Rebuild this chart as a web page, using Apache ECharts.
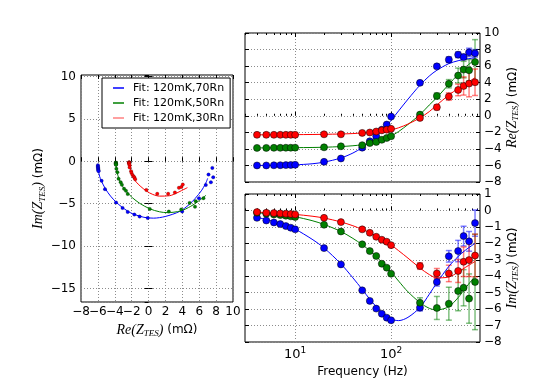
<!DOCTYPE html>
<html>
<head>
<meta charset="utf-8">
<script src="https://cdn.jsdelivr.net/npm/echarts@6/dist/echarts.min.js"></script>
<style>
html, body { margin: 0; padding: 0; background: #fff; }
#chart { width: 548px; height: 387px; }
</style>
</head>
<body>
<div id="chart"></div>
<script>
// measured points (frequency in Hz, impedance in mOhm)
var freq = [4, 5, 6, 7, 8, 9, 10, 20, 30, 50, 60, 70, 80, 90, 100, 200, 300, 400, 500, 570, 650, 750];

var reBlue  = [-6.0, -6.0, -5.98, -5.97, -5.96, -5.94, -5.92, -5.56, -5.16, -3.85, -3.08, -2.47, -1.68, -1.06, -0.1, 3.98, 5.97, 6.78, 7.38, 7.1, 7.66, 7.55];
var imBlue  = [-0.45, -0.61, -0.73, -0.83, -0.95, -1.05, -1.15, -2.29, -3.28, -4.86, -5.5, -5.97, -6.28, -6.52, -6.68, -5.91, -4.35, -2.79, -2.47, -1.56, -1.88, -0.77];
var reGreen = [-3.88, -3.88, -3.87, -3.87, -3.86, -3.86, -3.85, -3.81, -3.69, -3.55, -3.3, -3.16, -2.9, -2.68, -2.47, 0.14, 2.4, 3.87, 4.86, 5.58, 5.5, 6.5];
var imGreen = [-0.14, -0.2, -0.24, -0.28, -0.32, -0.36, -0.4, -0.87, -1.28, -2.06, -2.47, -2.77, -3.24, -3.48, -3.85, -5.61, -5.93, -5.67, -4.9, -4.7, -5.36, -4.35];
var reRed   = [-2.3, -2.3, -2.3, -2.3, -2.3, -2.3, -2.3, -2.24, -2.24, -2.07, -2.02, -1.9, -1.76, -1.68, -1.58, -0.26, 1.03, 2.32, 3.12, 3.6, 3.89, 4.05];
var imRed   = [-0.1, -0.14, -0.16, -0.18, -0.2, -0.22, -0.24, -0.45, -0.71, -1.15, -1.36, -1.6, -1.78, -1.9, -2.11, -3.38, -3.83, -3.83, -3.68, -3.12, -3.02, -2.74];

// error bars (0 = none drawn)
var errReBlue  = [0, 0, 0, 0, 0, 0, 0, 0, 0, 0, 0, 0, 0, 0, 0, 0.2, 0.25, 0.35, 0.35, 0.3, 0.5, 0.45];
var errReGreen = [0, 0, 0, 0, 0, 0, 0, 0, 0, 0, 0, 0, 0, 0, 0, 0.2, 0.35, 0.5, 0.9, 1.0, 1.3, 2.7];
var errReRed   = [0, 0, 0, 0, 0, 0, 0, 0, 0, 0, 0, 0, 0, 0, 0, 0.15, 0.3, 0.45, 0.7, 1.1, 1.6, 1.6];
var errImBlue  = [0, 0, 0, 0, 0, 0, 0, 0, 0, 0, 0, 0, 0, 0, 0, 0.2, 0.25, 0.35, 0.65, 0.6, 0.6, 0.8];
var errImGreen = [0, 0, 0, 0, 0, 0, 0, 0, 0, 0, 0, 0, 0, 0, 0, 0.3, 0.7, 1.0, 1.2, 1.1, 1.5, 2.9];
var errImRed   = [0, 0, 0, 0, 0, 0, 0, 0, 0, 0, 0, 0, 0, 0, 0, 0.2, 0.3, 0.5, 0.7, 0.9, 1.0, 1.3];

// fitted model curves
var fitFreq = [4, 5, 6, 7, 8, 9, 10, 15, 20, 30, 40, 50, 60, 70, 80, 100, 120, 150, 200, 250, 300, 400, 500, 600, 750];
var fitReBlue  = [-6.0, -6.0, -5.99, -5.98, -5.97, -5.95, -5.93, -5.8, -5.6, -5.1, -4.5, -3.85, -3.15, -2.5, -1.85, -0.55, 0.6, 2.0, 3.7, 4.8, 5.5, 6.3, 6.65, 6.85, 7.0];
var fitImBlue  = [-0.42, -0.55, -0.68, -0.8, -0.92, -1.03, -1.13, -1.75, -2.28, -3.25, -4.1, -4.8, -5.4, -5.85, -6.2, -6.6, -6.7, -6.5, -5.9, -5.1, -4.4, -3.4, -2.8, -2.4, -2.0];
var fitReGreen = [-3.88, -3.88, -3.87, -3.87, -3.86, -3.86, -3.85, -3.83, -3.8, -3.72, -3.62, -3.5, -3.33, -3.15, -2.95, -2.45, -1.9, -1.05, 0.15, 1.3, 2.2, 3.8, 5.0, 5.9, 6.8];
var fitImGreen = [-0.14, -0.18, -0.22, -0.26, -0.3, -0.34, -0.38, -0.62, -0.85, -1.28, -1.7, -2.08, -2.45, -2.8, -3.15, -3.75, -4.3, -4.95, -5.6, -5.95, -6.05, -5.85, -5.3, -4.7, -4.0];
var fitReRed   = [-2.3, -2.3, -2.3, -2.3, -2.29, -2.29, -2.28, -2.26, -2.24, -2.2, -2.15, -2.08, -2.02, -1.95, -1.88, -1.7, -1.45, -1.0, -0.25, 0.5, 1.3, 2.5, 3.3, 3.9, 4.6];
var fitImRed   = [-0.1, -0.13, -0.15, -0.17, -0.2, -0.22, -0.24, -0.35, -0.46, -0.7, -0.93, -1.15, -1.35, -1.55, -1.75, -2.1, -2.45, -2.9, -3.5, -3.9, -4.1, -4.05, -3.75, -3.45, -3.1];

var fitNames = ['Fit: 120mK,70Rn', 'Fit: 120mK,50Rn', 'Fit: 120mK,30Rn'];

// log axis tick positions
var majorTicks = [10, 100];
var minorTicks = [3, 4, 5, 6, 7, 8, 9, 20, 30, 40, 50, 60, 70, 80, 90, 200, 300, 400, 500, 600, 700, 800];

var FONT = 'DejaVu Sans';
var BLUE = '#0000ff', GREEN = '#008000', RED = '#ff0000';

var chart = echarts.init(document.getElementById('chart'));

function minus(v) {
    return String(v).replace('-', '\u2212');
}

function pairs(xs, ys) {
    return xs.map(function (x, i) { return [x, ys[i]]; });
}

function ebData(vals, errs) {
    var out = [];
    freq.forEach(function (f, i) {
        if (errs[i] > 0) out.push([f, vals[i] - errs[i], vals[i] + errs[i]]);
    });
    return out;
}

var tickIn = { show: true, inside: true, length: 4, lineStyle: { color: '#000', width: 1 } };
var dotted = { show: true, lineStyle: { color: '#8c8c8c', width: 1, type: [1, 2] } };
var noLabel = { show: false };

var nameStyle = {
    fontFamily: FONT, fontSize: 12, color: '#000',
    rich: {
        i: { fontFamily: 'Liberation Serif', fontStyle: 'italic', fontSize: 14, lineHeight: 16, color: '#000' },
        s: { fontFamily: 'Liberation Serif', fontStyle: 'italic', fontSize: 9, lineHeight: 9, verticalAlign: 'bottom', color: '#000' },
        n: { fontFamily: FONT, fontSize: 12, lineHeight: 16, color: '#000' }
    }
};
function mathName(p) {
    return '{i|' + p + '(Z}{s|TES}{i|)}{n| (m\u03a9)}';
}

// the Nyquist x labels are packed tightly: split them over two stacked axes
// so that no label gets dropped for overlapping its neighbour
function nyqX(pos, parity, withName) {
    var ax = {
        gridIndex: 0, type: 'value', min: -8, max: 10, interval: 2, position: pos,
        axisLine: { show: false }, axisTick: tickIn, splitLine: { show: false }, axisLabel: noLabel
    };
    if (parity !== null) {
        ax.axisLabel = {
            fontFamily: FONT, fontSize: 12, color: '#000', margin: 4,
            showMinLabel: true, showMaxLabel: true,
            formatter: function (v) {
                var k = Math.round((v + 8) / 2);
                return k % 2 === parity ? minus(v) : '';
            }
        };
    }
    if (withName) {
        ax.splitLine = dotted;
        ax.name = mathName('Re');
        ax.nameLocation = 'middle';
        ax.nameGap = 15;
        ax.nameTextStyle = nameStyle;
    }
    return ax;
}

function logAxis(grid, pos, kind, labels) {
    var ax = {
        gridIndex: grid, type: 'log', logBase: 10, min: 3, max: 845, position: pos,
        axisLine: { show: false },
        axisLabel: noLabel,
        splitLine: { show: false }
    };
    if (kind === 'major') {
        if (pos === 'bottom') ax.splitLine = dotted;
        ax.axisTick = { show: true, inside: true, length: 4, customValues: majorTicks, lineStyle: { color: '#000' } };
    } else {
        ax.axisTick = { show: true, inside: true, length: 2, customValues: minorTicks, lineStyle: { color: '#000' } };
    }
    if (labels) {
        ax.axisLabel = {
            show: true, margin: 4, color: '#000',
            formatter: function (v) {
                var l = Math.log10(v), e = Math.round(l);
                if (Math.abs(l - e) > 1e-6) return '';
                return '{b|10}{p|' + e + '}';
            },
            rich: {
                b: { fontFamily: FONT, fontSize: 13, lineHeight: 18, color: '#000' },
                p: { fontFamily: FONT, fontSize: 9, lineHeight: 9, verticalAlign: 'top', color: '#000' }
            }
        };
        ax.name = 'Frequency (Hz)';
        ax.nameLocation = 'middle';
        ax.nameGap = 24;
        ax.nameTextStyle = { fontFamily: FONT, fontSize: 12, color: '#000' };
    }
    return ax;
}

function errSeries(x, y, data, color) {
    return {
        type: 'custom', xAxisIndex: x, yAxisIndex: y, data: data, z: 1,
        encode: { x: 0, y: [1, 2] },
        renderItem: function (params, api) {
            var lo = api.coord([api.value(0), api.value(1)]);
            var hi = api.coord([api.value(0), api.value(2)]);
            var w = 3;
            var st = { stroke: color, lineWidth: 1.5 };
            return {
                type: 'group', children: [
                    { type: 'line', shape: { x1: lo[0], y1: lo[1], x2: hi[0], y2: hi[1] }, style: st },
                    { type: 'line', shape: { x1: lo[0] - w, y1: lo[1], x2: lo[0] + w, y2: lo[1] }, style: st },
                    { type: 'line', shape: { x1: hi[0] - w, y1: hi[1], x2: hi[0] + w, y2: hi[1] }, style: st }
                ]
            };
        }
    };
}

function fitLine(x, y, data, color, name) {
    return {
        type: 'line', name: name, xAxisIndex: x, yAxisIndex: y, data: data, z: 2,
        symbol: 'none', smooth: 0.3,
        lineStyle: { color: color, width: 1 }, itemStyle: { color: color }
    };
}

function dots(x, y, data, color, size) {
    return {
        type: 'scatter', xAxisIndex: x, yAxisIndex: y, data: data, z: 3,
        symbolSize: size,
        itemStyle: { color: color, borderColor: '#000', borderWidth: size > 5 ? 0.5 : 0.2, opacity: 1 }
    };
}

// axis indices
var XN = 0, XRE = 3, XIM = 7;

var series = [];
// Nyquist plot
series.push(fitLine(XN, 0, pairs(fitReBlue, fitImBlue), BLUE, fitNames[0]));
series.push(fitLine(XN, 0, pairs(fitReGreen, fitImGreen), GREEN, fitNames[1]));
series.push(fitLine(XN, 0, pairs(fitReRed, fitImRed), RED, fitNames[2]));
series.push(dots(XN, 0, pairs(reBlue, imBlue), BLUE, 3.5));
series.push(dots(XN, 0, pairs(reGreen, imGreen), GREEN, 3.5));
series.push(dots(XN, 0, pairs(reRed, imRed), RED, 3.5));
// Re vs frequency
series.push(errSeries(XRE, 2, ebData(reBlue, errReBlue), 'rgba(0,0,255,0.5)'));
series.push(errSeries(XRE, 2, ebData(reGreen, errReGreen), 'rgba(0,128,0,0.5)'));
series.push(errSeries(XRE, 2, ebData(reRed, errReRed), 'rgba(255,0,0,0.5)'));
series.push(fitLine(XRE, 2, pairs(fitFreq, fitReBlue), BLUE));
series.push(fitLine(XRE, 2, pairs(fitFreq, fitReGreen), GREEN));
series.push(fitLine(XRE, 2, pairs(fitFreq, fitReRed), RED));
series.push(dots(XRE, 2, pairs(freq, reBlue), BLUE, 7));
series.push(dots(XRE, 2, pairs(freq, reGreen), GREEN, 7));
series.push(dots(XRE, 2, pairs(freq, reRed), RED, 7));
// Im vs frequency
series.push(errSeries(XIM, 4, ebData(imBlue, errImBlue), 'rgba(0,0,255,0.5)'));
series.push(errSeries(XIM, 4, ebData(imGreen, errImGreen), 'rgba(0,128,0,0.5)'));
series.push(errSeries(XIM, 4, ebData(imRed, errImRed), 'rgba(255,0,0,0.5)'));
series.push(fitLine(XIM, 4, pairs(fitFreq, fitImBlue), BLUE));
series.push(fitLine(XIM, 4, pairs(fitFreq, fitImGreen), GREEN));
series.push(fitLine(XIM, 4, pairs(fitFreq, fitImRed), RED));
series.push(dots(XIM, 4, pairs(freq, imBlue), BLUE, 7));
series.push(dots(XIM, 4, pairs(freq, imGreen), GREEN, 7));
series.push(dots(XIM, 4, pairs(freq, imRed), RED, 7));

var option = {
    animation: false,
    backgroundColor: '#fff',
    grid: [
        { left: 81, top: 75, width: 152, height: 227, show: true, borderColor: '#000', borderWidth: 1 },
        { left: 245, top: 33, width: 235, height: 149, show: true, borderColor: '#000', borderWidth: 1 },
        { left: 245, top: 194, width: 235, height: 148, show: true, borderColor: '#000', borderWidth: 1 }
    ],
    legend: {
        data: [
            { name: fitNames[0], itemStyle: { color: BLUE } },
            { name: fitNames[1], itemStyle: { color: GREEN } },
            { name: fitNames[2], itemStyle: { color: '#ff8080' } }
        ],
        icon: 'rect',
        orient: 'vertical', left: 102, top: 78,
        itemWidth: 11, itemHeight: 1.5, itemGap: 3,
        padding: [4, 6, 4, 11],
        backgroundColor: '#fff', borderColor: '#000', borderWidth: 1, borderRadius: 0,
        selectedMode: false,
        textStyle: { fontFamily: FONT, fontSize: 11, lineHeight: 12, color: '#000', padding: [0, 0, 0, 4] }
    },
    xAxis: [
        nyqX('bottom', 0, true),
        nyqX('bottom', 1, false),
        nyqX('top', null, false),
        logAxis(1, 'bottom', 'major', false),
        logAxis(1, 'bottom', 'minor', false),
        logAxis(1, 'top', 'major', false),
        logAxis(1, 'top', 'minor', false),
        logAxis(2, 'bottom', 'major', true),
        logAxis(2, 'bottom', 'minor', false),
        logAxis(2, 'top', 'major', false),
        logAxis(2, 'top', 'minor', false)
    ],
    yAxis: [
        {
            gridIndex: 0, type: 'value', min: -16.6, max: 10.2, splitNumber: 5, position: 'left',
            axisLine: { show: false }, axisTick: tickIn, splitLine: dotted,
            axisLabel: {
                fontFamily: FONT, fontSize: 12, color: '#000', margin: 5,
                showMinLabel: false, showMaxLabel: false,
                formatter: function (v) { return Math.abs(v / 5 - Math.round(v / 5)) < 1e-6 ? minus(v) : ''; }
            },
            name: mathName('Im'), nameLocation: 'middle', nameRotate: 90, nameGap: 32, nameTextStyle: nameStyle
        },
        {
            gridIndex: 0, type: 'value', min: -16.6, max: 10.2, splitNumber: 5, position: 'right',
            axisLine: { show: false }, axisTick: tickIn, splitLine: { show: false }, axisLabel: noLabel
        },
        {
            gridIndex: 1, type: 'value', min: -8, max: 10, interval: 2, position: 'right',
            axisLine: { show: false }, axisTick: tickIn, splitLine: dotted,
            axisLabel: { fontFamily: FONT, fontSize: 12, color: '#000', margin: 4, formatter: minus, showMinLabel: true, showMaxLabel: true },
            name: mathName('Re'), nameLocation: 'middle', nameRotate: 90, nameGap: 22, nameTextStyle: nameStyle
        },
        {
            gridIndex: 1, type: 'value', min: -8, max: 10, interval: 2, position: 'left',
            axisLine: { show: false }, axisTick: tickIn, splitLine: { show: false }, axisLabel: noLabel
        },
        {
            gridIndex: 2, type: 'value', min: -8, max: 1, interval: 1, position: 'right',
            axisLine: { show: false }, axisTick: tickIn, splitLine: dotted,
            axisLabel: { fontFamily: FONT, fontSize: 12, color: '#000', margin: 4, formatter: minus, showMinLabel: true, showMaxLabel: true },
            name: mathName('Im'), nameLocation: 'middle', nameRotate: 90, nameGap: 22, nameTextStyle: nameStyle
        },
        {
            gridIndex: 2, type: 'value', min: -8, max: 1, interval: 1, position: 'left',
            axisLine: { show: false }, axisTick: tickIn, splitLine: { show: false }, axisLabel: noLabel
        }
    ],
    series: series
};

chart.setOption(option);
</script>
</body>
</html>
